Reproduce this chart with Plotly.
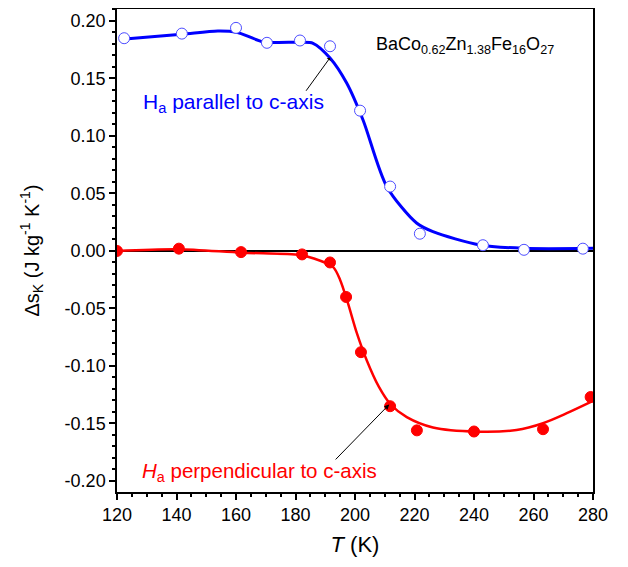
import plotly.graph_objects as go

# measured points
T_par = [122.4, 141.8, 160.0, 170.4, 181.5, 191.6, 201.7, 211.8, 221.8, 243.0, 256.8, 276.6]
ds_par = [0.185, 0.189, 0.194, 0.181, 0.183, 0.178, 0.122, 0.056, 0.015, 0.005, 0.001, 0.002]

T_perp = [120.0, 140.8, 161.7, 182.2, 191.6, 197.0, 202.0, 211.8, 220.8, 240.0, 263.2, 279.2]
ds_perp = [0.000, 0.002, -0.001, -0.003, -0.010, -0.040, -0.088, -0.135, -0.156, -0.157, -0.155, -0.127]

# fitted guide curves (knots)
T_par_fit = [122.7, 141.7, 153.9, 160.2, 169.1, 181.5, 185.9, 191.6, 197.2, 202.7, 210.7, 220.7, 226.2, 242.0, 256.5, 280.0]
ds_par_fit = [0.1843, 0.1884, 0.1913, 0.1902, 0.1820, 0.1815, 0.1806, 0.1678, 0.146, 0.1139, 0.0559, 0.0243, 0.0168, 0.0052, 0.0023, 0.0023]

T_perp_fit = [120.0, 140.5, 161.9, 181.5, 185.9, 192.6, 195.0, 197.6, 200.6, 203.9, 208.0, 212.0, 217.4, 226.2, 240.9, 254.3, 263.2, 271.2, 280.0]
ds_perp_fit = [0.0, 0.0015, -0.0015, -0.0035, -0.0063, -0.0139, -0.0252, -0.0452, -0.0713, -0.0948, -0.1180, -0.1335, -0.1445, -0.1535, -0.1571, -0.1557, -0.1498, -0.1411, -0.1304]

y_ticks = [0.20, 0.15, 0.10, 0.05, 0.00, -0.05, -0.10, -0.15, -0.20]
y_ticktext = ["0.20", "0.15", "0.10", "0.05", "0.00", "-0.05", "-0.10", "-0.15", "-0.20"]
x_ticks = [120, 140, 160, 180, 200, 220, 240, 260, 280]

BLUE = "#0000ff"
RED = "#ff0000"
FONT = "Liberation Sans, Arial, sans-serif"

fig = go.Figure()
fig.add_trace(go.Scatter(x=T_par_fit, y=ds_par_fit, mode="lines",
                         line=dict(color=BLUE, width=3, shape="spline", smoothing=0.8),
                         showlegend=False, hoverinfo="skip"))
fig.add_trace(go.Scatter(x=T_perp_fit, y=ds_perp_fit, mode="lines",
                         line=dict(color=RED, width=2.5, shape="spline", smoothing=0.8),
                         showlegend=False, hoverinfo="skip"))
fig.add_trace(go.Scatter(x=T_par, y=ds_par, mode="markers",
                         marker=dict(symbol="circle", size=11, color="white",
                                     line=dict(color="#4d4dff", width=1)),
                         showlegend=False))
fig.add_trace(go.Scatter(x=T_perp, y=ds_perp, mode="markers",
                         marker=dict(symbol="circle", size=11, color=RED,
                                     line=dict(color=RED, width=1)),
                         showlegend=False))

axis_common = dict(showline=True, linecolor="black", linewidth=1.5, mirror=True,
                   ticks="outside", ticklen=6, tickwidth=1.5, tickcolor="black",
                   showgrid=False, automargin=False,
                   tickfont=dict(family=FONT, size=18, color="black"))

fig.update_xaxes(range=[120, 280], tickvals=x_ticks,
                 minor=dict(dtick=5, ticks="outside", ticklen=3, tickwidth=1.5, tickcolor="black"),
                 title=dict(text="<i>T</i> (K)", font=dict(family=FONT, size=22, color="black"), standoff=12),
                 zeroline=False, **axis_common)
fig.update_yaxes(range=[-0.2096, 0.2104], tickvals=y_ticks, ticktext=y_ticktext,
                 minor=dict(dtick=0.01, ticks="outside", ticklen=3, tickwidth=1.5, tickcolor="black"),
                 title=dict(text="Δs<sub>K</sub> (J kg<sup>-1</sup> K<sup>-1</sup>)",
                            font=dict(family=FONT, size=20, color="black"), standoff=20),
                 zeroline=True, zerolinecolor="black", zerolinewidth=1.5, **axis_common)

fig.add_annotation(x=237, y=0.179, text="BaCo<sub>0.62</sub>Zn<sub>1.38</sub>Fe<sub>16</sub>O<sub>27</sub>",
                   showarrow=False, xanchor="center", yanchor="middle",
                   font=dict(family=FONT, size=18, color="black"))
fig.add_annotation(x=159, y=0.1287, text="H<sub>a</sub> parallel to c-axis",
                   showarrow=False, xanchor="center", yanchor="middle",
                   font=dict(family=FONT, size=21, color=BLUE))
fig.add_annotation(x=191.6, y=0.168, ax=183.2, ay=0.138, xref="x", yref="y", axref="x", ayref="y",
                   text="", showarrow=True, arrowhead=1, arrowsize=0.8, arrowwidth=1, arrowcolor="black")
fig.add_annotation(x=168, y=-0.192, text="<i>H</i><sub>a</sub> perpendicular to c-axis",
                   showarrow=False, xanchor="center", yanchor="middle",
                   font=dict(family=FONT, size=20.5, color=RED))
fig.add_annotation(x=211.5, y=-0.1335, ax=193.0, ay=-0.1826, xref="x", yref="y", axref="x", ayref="y",
                   text="", showarrow=True, arrowhead=2, arrowsize=1, arrowwidth=1, arrowcolor="black")

# page body adds an 8px offset, so margins are reduced accordingly
fig.update_layout(width=628, height=567, margin=dict(l=109, r=43, t=1, b=83),
                  plot_bgcolor="white", paper_bgcolor="white",
                  font=dict(family=FONT, color="black"))

fig.write_html("out.html")
